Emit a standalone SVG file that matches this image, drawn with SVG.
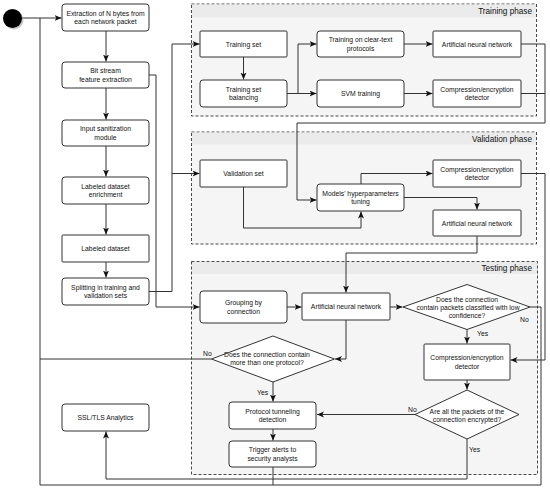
<svg xmlns="http://www.w3.org/2000/svg" width="550" height="492" viewBox="0 0 550 492">
<style>
.bg{fill:#ffffff}
.phase{fill:#f5f5f5;stroke:#333;stroke-width:0.9;stroke-dasharray:3,2}
.head{fill:#ebebeb}
.ptitle{font-family:"Liberation Sans",Arial,sans-serif;font-size:8.2px;fill:#111;text-anchor:end}
.box{fill:#fff;stroke:#333;stroke-width:1}
.t{font-family:"Liberation Sans",Arial,sans-serif;font-size:6.8px;fill:#111;text-anchor:middle}
.lbl{font-family:"Liberation Sans",Arial,sans-serif;font-size:6.8px;fill:#111}
.e{fill:none;stroke:#333;stroke-width:1}
.a{fill:none;stroke:#333;stroke-width:1;marker-end:url(#arr)}
</style>
<defs>
<marker id="arr" markerUnits="userSpaceOnUse" markerWidth="8" markerHeight="7" refX="7" refY="3" orient="auto">
<path d="M0,0 L7,3 L0,6 L1.8,3 z" fill="#111"/>
</marker>
</defs>
<rect class="bg" x="0" y="0" width="550" height="492"/>

<g id="training-phase">
<rect class="phase" x="191.5" y="4" width="345" height="112"/>
<rect class="head" x="192" y="4.5" width="344" height="13"/>
<text class="ptitle" x="532" y="13.5">Training phase</text>
</g>
<g id="validation-phase">
<rect class="phase" x="191.5" y="132" width="345" height="112"/>
<rect class="head" x="192" y="132.5" width="344" height="12"/>
<text class="ptitle" x="532" y="142">Validation phase</text>
</g>
<g id="testing-phase">
<rect class="phase" x="191.5" y="261.5" width="346" height="213"/>
<rect class="head" x="192" y="262" width="345" height="12"/>
<text class="ptitle" x="532" y="271">Testing phase</text>
</g>

<g id="connectors">
<path class="a" d="M22,18 H61.5"/>
<path class="a" d="M106,31 V61.5"/>
<path class="a" d="M106,88 V119.5"/>
<path class="a" d="M106,146 V176.5"/>
<path class="a" d="M106,204 V234.5"/>
<path class="a" d="M106,262 V277.5"/>
<path class="e" d="M149,75 H156 V307"/>
<path class="a" d="M156,307 H199.5"/>
<path class="e" d="M149,291.5 H172 V44"/>
<path class="a" d="M172,44 H199.5"/>
<path class="a" d="M172,173.5 H199.5"/>
<path class="a" d="M243.5,57 V79.5"/>
<path class="e" d="M287,93.5 H298 V44"/>
<path class="a" d="M298,44 H316.5"/>
<path class="a" d="M298,93.5 H316.5"/>
<path class="a" d="M404,44 H432.5"/>
<path class="a" d="M404,93.5 H432.5"/>
<path class="e" d="M521,44 H545 V123 H297 V200"/>
<path class="a" d="M297,200 H316.5"/>
<path class="e" d="M521,93.5 H545"/>
<path class="a" d="M243.5,187 V228 H361 V211.5"/>
<path class="a" d="M361,184 V173.5 H432.5"/>
<path class="a" d="M404,197.5 H477 V209.5"/>
<path class="a" d="M521,173.5 H545 V360 H510.5"/>
<path class="a" d="M477,236 V253 H346 V292.5"/>
<path class="a" d="M287,307 H301.5"/>
<path class="a" d="M390,307 H402.5"/>
<path class="a" d="M467,329.5 V343.5"/>
<path class="e" d="M530,307 H541 V485 H40 V18"/>
<path class="a" d="M346,320 V359 H335"/>
<path class="e" d="M211.5,359 H40"/>
<path class="a" d="M273,382 V401.5"/>
<path class="a" d="M273,429 V440.5"/>
<path class="e" d="M273,467 V485"/>
<path class="a" d="M467,380 V389.5"/>
<path class="a" d="M415,414.5 H317"/>
<path class="a" d="M467,439 V479 H106 V431.5"/>
<text class="lbl" x="477" y="335.5">Yes</text>
<text class="lbl" x="520" y="322">No</text>
<text class="lbl" x="203" y="356">No</text>
<text class="lbl" x="257" y="395">Yes</text>
<text class="lbl" x="408" y="411.5">No</text>
<text class="lbl" x="469" y="452">Yes</text>
</g>

<g id="start">
<circle cx="14" cy="20" r="9.5" fill="#999" opacity="0.5"/>
<circle cx="12.5" cy="18.5" r="9.5" fill="#000"/>
</g>

<g id="extraction">
<rect class="box" x="62" y="4" width="87" height="27" rx="3"/>
<text class="t" x="105.5" y="15.7">Extraction of N bytes from</text>
<text class="t" x="105.5" y="24.2">each network packet</text>
</g>
<g id="bitstream">
<rect class="box" x="62" y="62" width="87" height="26" rx="3"/>
<text class="t" x="105.5" y="73.2">Bit stream</text>
<text class="t" x="105.5" y="81.7">feature extraction</text>
</g>
<g id="sanitization">
<rect class="box" x="62" y="120" width="87" height="26" rx="3"/>
<text class="t" x="105.5" y="131.2">Input sanitization</text>
<text class="t" x="105.5" y="139.7">module</text>
</g>
<g id="enrichment">
<rect class="box" x="62" y="177" width="87" height="27" rx="3"/>
<text class="t" x="105.5" y="188.7">Labeled dataset</text>
<text class="t" x="105.5" y="197.2">enrichment</text>
</g>
<g id="labeled">
<rect class="box" x="62" y="235" width="87" height="27" rx="1"/>
<text class="t" x="105.5" y="251">Labeled  dataset</text>
</g>
<g id="splitting">
<rect class="box" x="62" y="278" width="87" height="27" rx="3"/>
<text class="t" x="105.5" y="289.7">Splitting in training and</text>
<text class="t" x="105.5" y="298.2">validation sets</text>
</g>
<g id="ssltls">
<rect class="box" x="62" y="404" width="87" height="27" rx="3"/>
<text class="t" x="105.5" y="420">SSL/TLS Analytics</text>
</g>

<g id="training-set">
<rect class="box" x="200" y="31" width="87" height="26" rx="1"/>
<text class="t" x="243.5" y="46.5">Training set</text>
</g>
<g id="training-balancing">
<rect class="box" x="200" y="80" width="87" height="27" rx="3"/>
<text class="t" x="243.5" y="91.7">Training set</text>
<text class="t" x="243.5" y="100.2">balancing</text>
</g>
<g id="training-cleartext">
<rect class="box" x="317" y="31" width="87" height="26" rx="3"/>
<text class="t" x="360.5" y="42.2">Training on clear-text</text>
<text class="t" x="360.5" y="50.7">protocols</text>
</g>
<g id="svm">
<rect class="box" x="317" y="80" width="87" height="27" rx="3"/>
<text class="t" x="360.5" y="96">SVM training</text>
</g>
<g id="ann-train">
<rect class="box" x="433" y="31" width="88" height="26" rx="1"/>
<text class="t" x="477" y="46.5">Artificial neural network</text>
</g>
<g id="ced-train">
<rect class="box" x="433" y="80" width="88" height="27" rx="1"/>
<text class="t" x="477" y="91.7">Compression/encryption</text>
<text class="t" x="477" y="100.2">detector</text>
</g>

<g id="validation-set">
<rect class="box" x="200" y="160" width="87" height="27" rx="1"/>
<text class="t" x="243.5" y="176">Validation set</text>
</g>
<g id="tuning">
<rect class="box" x="317" y="184" width="87" height="27" rx="3"/>
<text class="t" x="360.5" y="195.7">Models' hyperparameters</text>
<text class="t" x="360.5" y="204.2">tuning</text>
</g>
<g id="ced-valid">
<rect class="box" x="433" y="160" width="88" height="27" rx="1"/>
<text class="t" x="477" y="171.7">Compression/encryption</text>
<text class="t" x="477" y="180.2">detector</text>
</g>
<g id="ann-valid">
<rect class="box" x="433" y="210" width="88" height="26" rx="1"/>
<text class="t" x="477" y="225.5">Artificial neural network</text>
</g>

<g id="grouping">
<rect class="box" x="200" y="291" width="87" height="32" rx="3"/>
<text class="t" x="243.5" y="305.2">Grouping by</text>
<text class="t" x="243.5" y="313.7">connection</text>
</g>
<g id="ann-test">
<rect class="box" x="302" y="293" width="88" height="27" rx="1"/>
<text class="t" x="346" y="309">Artificial neural network</text>
</g>
<g id="decision-confidence">
<polygon class="box" points="467,284.5 530,307 467,329.5 403,307"/>
<text class="t" x="467" y="302.3">Does the connection</text>
<text class="t" x="468" y="309.8">contain packets classified with low</text>
<text class="t" x="467" y="318">confidence?</text>
</g>
<g id="ced-test">
<rect class="box" x="424" y="344" width="86" height="36" rx="1"/>
<text class="t" x="467" y="360.2">Compression/encryption</text>
<text class="t" x="467" y="368.7">detector</text>
</g>
<g id="decision-protocol">
<polygon class="box" points="273,336 334.5,359 273,382 211.5,359"/>
<text class="t" x="267" y="357.3">Does the connection contain</text>
<text class="t" x="267" y="365">more than one protocol?</text>
</g>
<g id="tunneling">
<rect class="box" x="229" y="402" width="87" height="27" rx="3"/>
<text class="t" x="272.5" y="413.7">Protocol tunneling</text>
<text class="t" x="272.5" y="422.2">detection</text>
</g>
<g id="alerts">
<rect class="box" x="229" y="441" width="87" height="26" rx="3"/>
<text class="t" x="272.5" y="452.2">Trigger alerts to</text>
<text class="t" x="272.5" y="460.7">security analysts</text>
</g>
<g id="decision-encrypted">
<polygon class="box" points="467,390 519,414.5 467,439 415,414.5"/>
<text class="t" x="467" y="413.8">Are all the packets of the</text>
<text class="t" x="467" y="421.5">connection encrypted?</text>
</g>
</svg>
